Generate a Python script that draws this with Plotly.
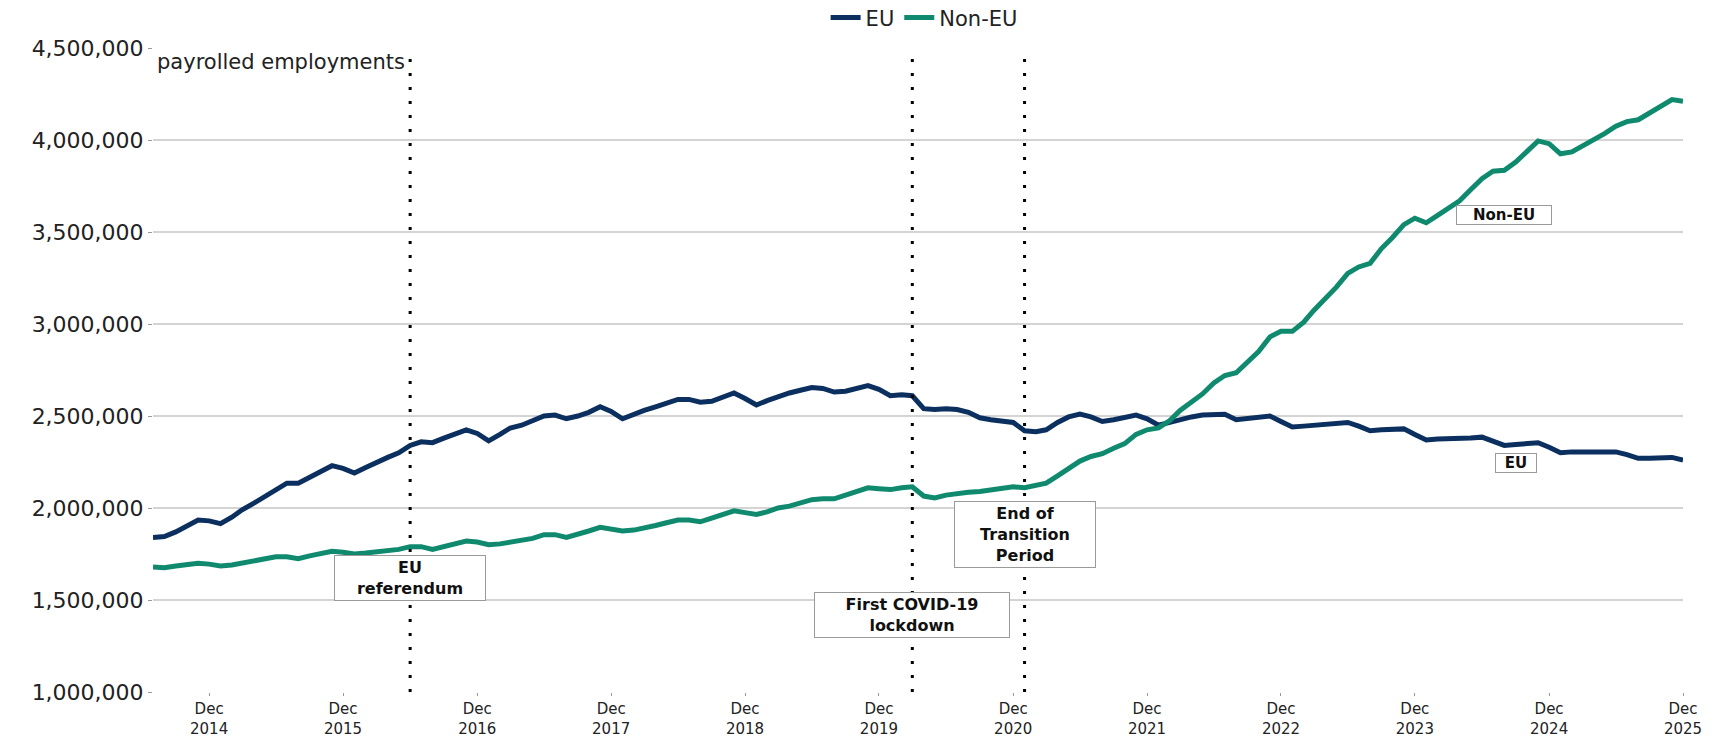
import pandas as pd
import plotly.graph_objects as go

# Monthly payrolled employments, Jul 2014 - Dec 2025
months = pd.date_range("2014-07-01", "2025-12-01", freq="MS")

eu = [
    # 2014 Jul-Dec
    1.840, 1.845, 1.870, 1.900, 1.935, 1.930,
    # 2015
    1.915, 1.950, 1.990, 2.025, 2.060, 2.100, 2.135, 2.135, 2.165, 2.200, 2.230, 2.215,
    # 2016
    2.190, 2.220, 2.250, 2.275, 2.300, 2.340, 2.360, 2.355, 2.380, 2.400, 2.425, 2.405,
    # 2017
    2.365, 2.400, 2.435, 2.450, 2.475, 2.500, 2.505, 2.485, 2.500, 2.520, 2.550, 2.525,
    # 2018
    2.485, 2.510, 2.530, 2.550, 2.570, 2.590, 2.590, 2.575, 2.580, 2.600, 2.625, 2.595,
    # 2019
    2.560, 2.585, 2.605, 2.625, 2.640, 2.655, 2.650, 2.630, 2.635, 2.650, 2.665, 2.645,
    # 2020
    2.610, 2.615, 2.610, 2.540, 2.535, 2.540, 2.535, 2.520, 2.490, 2.480, 2.475, 2.465,
    # 2021
    2.420, 2.415, 2.425, 2.465, 2.495, 2.510, 2.495, 2.470, 2.480, 2.490, 2.505, 2.485,
    # 2022
    2.450, 2.465, 2.480, 2.495, 2.505, 2.510, 2.510, 2.480, 2.485, 2.490, 2.500, 2.470,
    # 2023
    2.440, 2.445, 2.450, 2.455, 2.460, 2.465, 2.445, 2.420, 2.425, 2.430, 2.430, 2.400,
    # 2024
    2.370, 2.375, 2.375, 2.380, 2.380, 2.385, 2.360, 2.340, 2.345, 2.350, 2.355, 2.330,
    # 2025
    2.300, 2.305, 2.305, 2.305, 2.310, 2.305, 2.290, 2.270, 2.270, 2.275, 2.275, 2.260,
]

non_eu = [
    # 2014 Jul-Dec
    1.680, 1.675, 1.685, 1.690, 1.700, 1.695,
    # 2015
    1.685, 1.690, 1.700, 1.710, 1.720, 1.735, 1.735, 1.725, 1.740, 1.755, 1.765, 1.760,
    # 2016
    1.750, 1.755, 1.760, 1.765, 1.775, 1.790, 1.790, 1.775, 1.790, 1.805, 1.820, 1.815,
    # 2017
    1.800, 1.805, 1.815, 1.825, 1.835, 1.855, 1.855, 1.840, 1.855, 1.875, 1.895, 1.885,
    # 2018
    1.875, 1.880, 1.890, 1.905, 1.920, 1.935, 1.935, 1.925, 1.945, 1.965, 1.985, 1.975,
    # 2019
    1.965, 1.980, 2.000, 2.010, 2.025, 2.045, 2.050, 2.050, 2.070, 2.090, 2.110, 2.105,
    # 2020
    2.100, 2.110, 2.115, 2.065, 2.055, 2.070, 2.080, 2.085, 2.090, 2.100, 2.110, 2.115,
    # 2021
    2.110, 2.120, 2.135, 2.175, 2.215, 2.255, 2.280, 2.295, 2.325, 2.350, 2.400, 2.425,
    # 2022
    2.435, 2.475, 2.530, 2.575, 2.620, 2.680, 2.720, 2.735, 2.790, 2.850, 2.930, 2.960,
    # 2023
    2.960, 3.010, 3.075, 3.135, 3.200, 3.275, 3.310, 3.330, 3.410, 3.470, 3.540, 3.575,
    # 2024
    3.550, 3.590, 3.630, 3.670, 3.730, 3.790, 3.830, 3.835, 3.880, 3.940, 3.995, 3.980,
    # 2025
    3.925, 3.935, 3.965, 4.000, 4.035, 4.075, 4.100, 4.110, 4.145, 4.185, 4.220, 4.210,
]

eu_vals = [v * 1_000_000 for v in eu]
non_eu_vals = [v * 1_000_000 for v in non_eu]

tick_dates = [f"{y}-12-01" for y in range(2014, 2026)]
tick_text = [f"Dec<br>{y}" for y in range(2014, 2026)]
y_ticks = [1_000_000, 1_500_000, 2_000_000, 2_500_000, 3_000_000, 3_500_000, 4_000_000, 4_500_000]

events = ["2016-06-01", "2020-03-01", "2021-01-01"]
event_labels = ["<b>EU</b><br><b>referendum</b>",
                "<b>First COVID-19</b><br><b>lockdown</b>",
                "<b>End of</b><br><b>Transition</b><br><b>Period</b>"]
event_label_y = [1_620_000, 1_420_000, 1_855_000]
event_box_w = [146, 190, 136]

series_labels = ["<b>Non-EU</b>", "<b>EU</b>"]
series_label_x = ["2024-08-01", "2024-09-01"]
series_label_y = [3_590_000, 2_245_000]
series_box_w = [94, 40]

EU_COLOR = "#0B305F"
NON_EU_COLOR = "#0F8A6E"
FONT = "DejaVu Sans"

fig = go.Figure()
fig.add_trace(go.Scatter(x=months, y=eu_vals, name="EU", mode="lines",
                         line=dict(color=EU_COLOR, width=5)))
fig.add_trace(go.Scatter(x=months, y=non_eu_vals, name="Non-EU", mode="lines",
                         line=dict(color=NON_EU_COLOR, width=5)))

for d in events:
    fig.add_shape(type="line", x0=d, x1=d, xref="x", yref="paper", y0=0, y1=0.985,
                  line=dict(color="black", width=3, dash="3px,11px"), layer="above")

for d, txt, yv, w in zip(events, event_labels, event_label_y, event_box_w):
    fig.add_annotation(x=d, y=yv, xref="x", yref="y", text=txt, showarrow=False,
                       width=w, align="center",
                       font=dict(family=FONT, size=16, color="#111"),
                       bgcolor="white", bordercolor="#9a9a9a", borderwidth=1, borderpad=2)

for xd, txt, yv, w in zip(series_label_x, series_labels, series_label_y, series_box_w):
    fig.add_annotation(x=xd, y=yv, xref="x", yref="y", text=txt, showarrow=False,
                       width=w, align="center",
                       font=dict(family=FONT, size=15, color="#111"),
                       bgcolor="white", bordercolor="#9a9a9a", borderwidth=1, borderpad=0)

fig.add_annotation(x=0.001, y=1.0, xref="paper", yref="paper", xanchor="left", yanchor="top",
                   text="payrolled employments", showarrow=False,
                   font=dict(family=FONT, size=21, color="#222"))

# the page body adds an 8px offset, so the figure is sized and placed to compensate
fig.update_layout(
    width=1712, height=730,
    margin=dict(l=145, r=37, t=40, b=46, autoexpand=False),
    paper_bgcolor="white", plot_bgcolor="white",
    font=dict(family=FONT, size=19, color="#222"),
    showlegend=True,
    legend=dict(orientation="h", x=0.504, xanchor="center", y=1.047, yanchor="middle",
                font=dict(family=FONT, size=21, color="#222"), bgcolor="rgba(0,0,0,0)"),
    xaxis=dict(range=["2014-07-01", "2025-12-01"], tickvals=tick_dates, ticktext=tick_text,
               showgrid=False, zeroline=False, showline=False, automargin=False,
               ticks="outside", ticklen=3, tickcolor="#999",
               tickfont=dict(family=FONT, size=15, color="#222")),
    yaxis=dict(range=[1_000_000, 4_500_000], tickvals=y_ticks, tickformat=",",
               showgrid=True, gridcolor="#d4d4d4", gridwidth=1.5, zeroline=False, showline=False,
               automargin=False, ticks="outside", ticklen=4, tickcolor="#999",
               tickfont=dict(family=FONT, size=22, color="#222")),
)

fig.write_html("out.html")
